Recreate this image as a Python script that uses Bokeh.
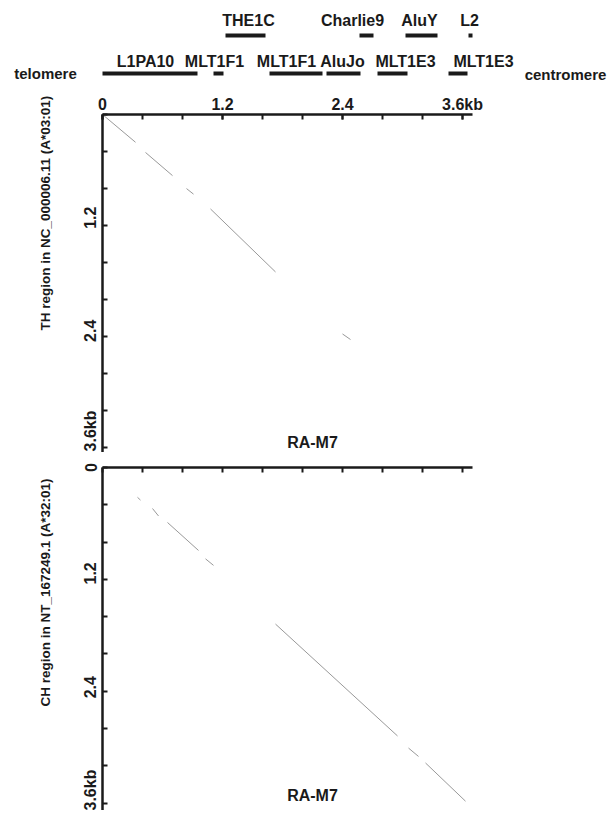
from bokeh.plotting import figure
from bokeh.layouts import column
from bokeh.models import Range1d, FixedTicker, LinearAxis, Title, ColumnDataSource
from bokeh.embed import file_html
from bokeh.resources import INLINE
from bokeh.core.properties import value

FONT = "Liberation Sans"

# ---------------- data ----------------
# repeat annotations along the RA-M7 sequence (kb)
row1_names = ["L1PA10", "MLT1F1", "MLT1F1", "AluJo", "MLT1E3", "MLT1E3"]
row1_start = [0.00, 1.11, 1.67, 2.24, 2.75, 3.46]
row1_end = [0.95, 1.21, 2.20, 2.58, 3.05, 3.65]
row1_label_x = [0.43, 1.12, 1.84, 2.40, 3.03, 3.81]

row2_names = ["THE1C", "Charlie9", "AluY", "L2"]
row2_start = [1.23, 2.57, 3.03, 3.66]
row2_end = [1.63, 2.71, 3.35, 3.70]
row2_label_x = [1.46, 2.50, 3.17, 3.67]

# dot-plot match segments: RA-M7 (x, kb) vs TH region (y, kb)
top_x0 = [0.00, 0.43, 0.84, 1.08, 2.40]
top_y0 = [0.00, 0.41, 0.80, 1.02, 2.37]
top_x1 = [0.33, 0.70, 0.91, 1.73, 2.48]
top_y1 = [0.30, 0.66, 0.86, 1.70, 2.43]

# dot-plot match segments: RA-M7 (x, kb) vs CH region (y, kb)
bot_x0 = [0.35, 0.50, 0.65, 1.03, 1.73, 3.06, 3.23, 3.71]
bot_y0 = [0.32, 0.44, 0.59, 0.98, 1.68, 3.01, 3.17, 3.67]
bot_x1 = [0.38, 0.56, 0.96, 1.11, 2.95, 3.16, 3.63, 3.78]
bot_y1 = [0.35, 0.52, 0.89, 1.05, 2.88, 3.10, 3.58, 3.74]

major_ticks = [0, 1.2, 2.4, 3.6]
all_ticks = [0, 0.4, 0.8, 1.2, 1.6, 2.0, 2.4, 2.8, 3.2, 3.6]
tick_labels = ["0", "1.2", "2.4", "3.6kb"]

top_title = "TH region in NC_000006.11 (A*03:01)"
bot_title = "CH region in NT_167249.1 (A*32:01)"
panel_label = "RA-M7"

INK = "#1a1a1a"
DOT = "#999999"
PX_PER_KB_Y = 93.15

# ---------------- header (repeat tracks) ----------------
header = figure(width=609, height=92, x_range=Range1d(-1.02, 5.07),
                y_range=Range1d(0.5, 2.921), x_axis_type=None, y_axis_type=None,
                output_backend="svg", toolbar_location=None, min_border=0)
header.outline_line_color = None
header.grid.visible = False

r1 = ColumnDataSource(dict(name=row1_names, left=row1_start, right=row1_end,
                           lx=row1_label_x, y=[1] * len(row1_names),
                           ly=[1.31] * len(row1_names)))
r2 = ColumnDataSource(dict(name=row2_names, left=row2_start, right=row2_end,
                           lx=row2_label_x, y=[2] * len(row2_names),
                           ly=[2.40] * len(row2_names)))
for src in (r1, r2):
    header.hbar(y="y", left="left", right="right", height=0.105, source=src,
                fill_color=INK, line_color=None)
    header.text(x="lx", y="ly", text="name", source=src, text_align="center",
                text_baseline="middle", text_font=value(FONT),
                text_font_style="bold", text_font_size="16px", text_color=INK)

header.text(x=[-0.57, 4.63], y=[1.0, 0.97], text=["telomere", "centromere"],
            text_align="center", text_baseline="middle", text_font=value(FONT),
            text_font_style="bold", text_font_size="15px", text_color=INK)


def style_axis(ax):
    ax.axis_line_width = 2.5
    ax.axis_line_color = INK
    ax.major_tick_line_width = 2
    ax.minor_tick_line_width = 2
    ax.major_tick_line_color = INK
    ax.minor_tick_line_color = INK
    ax.major_tick_in = 5
    ax.major_tick_out = 0
    ax.minor_tick_in = 5
    ax.minor_tick_out = 0
    ax.major_label_text_font = FONT
    ax.major_label_text_font_style = "bold"
    ax.major_label_text_font_size = "16px"
    ax.major_label_text_color = INK


# ---------------- dot-plot panels ----------------
def panel(height, top_border, y_end, x0, y0, x1, y1, title, title_offset,
          label_shift_px, label_y, show_x_labels):
    p = figure(width=609, height=height, x_range=Range1d(0, 3.7),
               y_range=Range1d(y_end, 0), x_axis_location="above",
               output_backend="svg", toolbar_location=None,
               min_border_left=102, min_border_right=137,
               min_border_top=top_border, min_border_bottom=0)
    p.outline_line_color = None
    p.grid.visible = False

    xa = p.xaxis[0]
    style_axis(xa)
    if show_x_labels:
        xa.ticker = FixedTicker(ticks=major_ticks, minor_ticks=all_ticks)
        xa.major_label_standoff = 2
        xa.major_label_overrides = {3.6: "3.6kb"}
    else:
        xa.ticker = FixedTicker(ticks=[], minor_ticks=all_ticks)

    ya = p.yaxis[0]
    style_axis(ya)
    ya.ticker = FixedTicker(ticks=[], minor_ticks=all_ticks)
    ya.major_label_standoff = 0

    # tick labels of the vertical scale (set just above each tick)
    pos = [round(t - s / PX_PER_KB_Y, 4) for t, s in zip(major_ticks, label_shift_px)]
    lab_ax = LinearAxis(ticker=FixedTicker(ticks=pos),
                        major_label_overrides=dict(zip(pos, tick_labels)),
                        major_label_orientation="vertical",
                        major_tick_in=0, major_tick_out=0,
                        major_label_standoff=3)
    style_axis(lab_ax)
    lab_ax.major_tick_in = 0
    lab_ax.minor_tick_in = 0
    lab_ax.axis_line_color = None
    lab_ax.major_tick_line_color = None
    lab_ax.minor_tick_line_color = None
    p.add_layout(lab_ax, "left")

    t = Title(text=title, align="left", offset=title_offset,
              text_font=FONT, text_font_style="bold", text_font_size="13.5px",
              text_color=INK)
    if "standoff" in t.properties():
        t.standoff = 53
    p.add_layout(t, "left")

    p.segment(x0=x0, y0=y0, x1=x1, y1=y1, line_color=DOT, line_width=1)
    p.text(x=[2.10], y=[label_y], text=[panel_label], text_align="center",
           text_baseline="middle", text_font=value(FONT),
           text_font_style="bold", text_font_size="16px", text_color=INK)
    return p


top = panel(360, 20, 3.65, top_x0, top_y0, top_x1, top_y1, top_title, 122,
            [2, 8, 6, 17], 3.54, True)
bottom = panel(358, 15, 3.68, bot_x0, bot_y0, bot_x1, bot_y1, bot_title, 104,
               [0, 6, 4, 12], 3.52, False)

panels = column(top, bottom, spacing=0)

open("out.html", "w").write(file_html([header, panels], INLINE))
